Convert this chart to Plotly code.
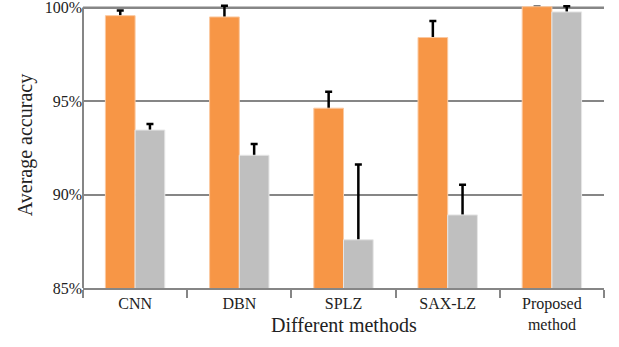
import plotly.graph_objects as go

categories = ["CNN", "DBN", "SPLZ", "SAX-LZ", "Proposed<br>method"]
series_a = [99.57, 99.5, 94.62, 98.4, 100.05]
series_a_err = [0.27, 0.6, 0.88, 0.88, None]
series_b = [93.45, 92.1, 87.58, 88.91, 99.77]
series_b_err = [0.32, 0.6, 4.03, 1.62, 0.3]
y_ticks = [85, 90, 95, 100]
y_tick_labels = ["85%", "90%", "95%", "100%"]

font = "Liberation Serif, Times New Roman, serif"
axis_color = "#868686"

fig = go.Figure()
# error bars (symmetric) drawn first, then covered below the bar tops by the bars
for vals, errs, grp in [(series_a, series_a_err, "a"), (series_b, series_b_err, "b")]:
    fig.add_trace(go.Bar(
        x=categories, y=vals, offsetgroup=grp,
        marker=dict(color="rgba(0,0,0,0)", line=dict(width=0)),
        error_y=dict(type="data", array=errs, color="black",
                     thickness=2.5, width=3.5),
        showlegend=False, hoverinfo="skip",
    ))
fig.add_trace(go.Bar(
    x=categories, y=series_a, offsetgroup="a",
    marker=dict(color="#F79646", line=dict(color="#FBC9A0", width=1)),
    showlegend=False,
))
fig.add_trace(go.Bar(
    x=categories, y=series_b, offsetgroup="b",
    marker=dict(color="#BFBFBF", line=dict(color="#E6E6E6", width=1)),
    showlegend=False,
))

fig.update_layout(
    width=619, height=347,
    margin=dict(l=83, r=15, t=2.4, b=59, autoexpand=False),
    paper_bgcolor="white", plot_bgcolor="white",
    barmode="group", bargap=0.43, bargroupgap=0,
    font=dict(family=font, size=16, color="#222222"),
    annotations=[dict(
        text="Different methods", xref="paper", yref="paper",
        x=0.5, y=0, yshift=-37, xanchor="center", yanchor="middle",
        showarrow=False, font=dict(size=20, family=font, color="#222222"),
    )],
    shapes=[
        dict(type="line", xref="paper", yref="y", x0=0, x1=1,
             y0=y_ticks[-1], y1=y_ticks[-1], layer="below",
             line=dict(color=axis_color, width=2)),
        dict(type="line", xref="paper", yref="y", x0=0, x1=0,
             y0=y_ticks[0], y1=y_ticks[-1], layer="above",
             line=dict(color=axis_color, width=2)),
    ],
)
fig.update_xaxes(
    automargin=False,
    showline=True, linecolor=axis_color, linewidth=2,
    ticks="outside", tickson="boundaries", ticklen=8, tickwidth=1.5,
    tickcolor=axis_color, tickfont=dict(size=16, family=font),
    showgrid=False,
)
fig.update_yaxes(
    automargin=False,
    range=[85, 100.3], tickvals=y_ticks, ticktext=y_tick_labels,
    showgrid=True, gridcolor=axis_color, gridwidth=2,
    showline=False,
    ticks="", tickfont=dict(size=16, family=font),
    ticklabeloverflow="allow",
    title=dict(text="Average accuracy", font=dict(size=20, family=font), standoff=6),
    zeroline=False,
)

fig.write_html("out.html", config={"displayModeBar": False},
               post_script="document.body.style.margin='0';")
